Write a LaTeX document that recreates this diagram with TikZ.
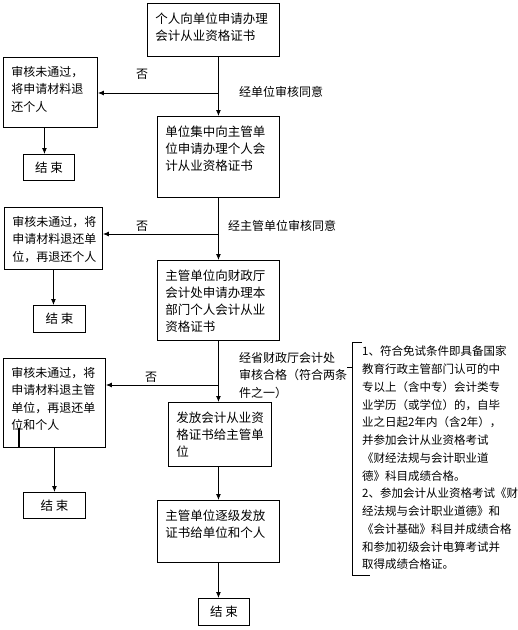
\documentclass[tikz,border=0pt]{standalone}
\usepackage{fontspec}
\setmainfont{Noto Sans CJK SC}
\usetikzlibrary{arrows.meta}
\tikzstyle{box} = [draw, line width=0.9pt, anchor=north west, inner xsep=8pt, inner ysep=0pt, font=\fontsize{12.5}{17}\selectfont]
\tikzstyle{nobox} = [box, font=\fontsize{12}{17.3}\selectfont]
\tikzstyle{endbox} = [draw, line width=0.9pt, anchor=north west, inner sep=0pt, font=\fontsize{12.5}{15}\selectfont]
\tikzstyle{lbl} = [inner sep=0pt, font=\fontsize{12}{17.5}\selectfont]
\tikzstyle{tut} = [line width=0.8pt]
\tikzstyle{tuh} = [style={-{Latex[length=6pt,width=5pt]},line width=0.9pt}]
\newcommand{\cell}[3]{\parbox[c][#2][t]{#1}{\vspace*{9pt}#3}}

\begin{document}
\begin{tikzpicture}[x=1pt,y=-1pt]
        \useasboundingbox[fill=white] (0,0) rectangle (518,630);
        % main column
        \node[box] (app) at (147,3) {\cell{116pt}{53pt}{个人向单位申请办理\\会计从业资格证书}};
        \node[box] (unit) at (157,116) {\cell{106pt}{81pt}{单位集中向主管单\\位申请办理个人会\\计从业资格证书}};
        \node[box] (dept) at (157,260) {\cell{106pt}{80pt}{主管单位向财政厅\\会计处申请办理本\\部门个人会计从业\\资格证书}};
        \node[box] (issue) at (168,402) {\cell{87pt}{64pt}{发放会计从业资\\格证书给主管单\\位}};
        \node[box] (dist) at (157,500) {\cell{106pt}{62pt}{主管单位逐级发放\\证书给单位和个人}};
        \node[endbox, minimum width=51pt, minimum height=27pt] (endF) at (198,598) {结\ 束};
        % left column
        \node[nobox] (rej1) at (3,57) {\cell{78pt}{70pt}{审核未通过，\\将申请材料退\\还个人}};
        \node[endbox, minimum width=51pt, minimum height=26pt] (end1) at (23,154) {结\ 束};
        \node[nobox] (rej2) at (4,207) {\cell{82pt}{62pt}{审核未通过，将\\申请材料退还单\\位，再退还个人}};
        \node[endbox, minimum width=52pt, minimum height=27pt] (end2) at (33,305) {结\ 束};
        \node[nobox] (rej3) at (3,358) {\cell{86pt}{89pt}{审核未通过，将\\申请材料退主管\\单位，再退还单\\位和个人}};
        \node[endbox, minimum width=62pt, minimum height=26pt] (end3) at (23,492) {结\ 束};
        % labels
        \node[lbl] (no1) at (142,74) {否};
        \node[lbl, anchor=west] (ok1) at (239,92) {经单位审核同意};
        \node[lbl] (no2) at (142,226) {否};
        \node[lbl, anchor=west] (ok2) at (228,226) {经主管单位审核同意};
        \node[lbl] (no3) at (151,377) {否};
        \node[lbl, anchor=north west, align=left] (cond) at (239,352) {经省财政厅会计处\\审核合格（符合两条\\件之一）};
        \node[lbl, anchor=north west, align=left, font=\fontsize{11.5}{17.75}\selectfont] (note) at (362,346) {1、符合免试条件即具备国家\\教育行政主管部门认可的中\\专以上（含中专）会计类专\\业学历（或学位）的，自毕\\业之日起2年内（含2年），\\并参加会计从业资格考试\\《财经法规与会计职业道\\德》科目成绩合格。\\2、参加会计从业资格考试《财\\经法规与会计职业道德》和\\《会计基础》科目并成绩合格\\和参加初级会计电算考试并\\取得成绩合格证。};
        % branch points
        \coordinate (j1) at (218,93);
        \coordinate (j2) at (218,234);
        \coordinate (j3) at (218,385);
        \coordinate (bt) at (352,342);
        \coordinate (bb) at (352,575);
        \coordinate (bj) at (352,367);
        % arrows
        \draw[tuh] (app.south -| unit.north) -- (unit.north);
        \draw[tuh] (j1) -- (j1 -| rej1.east);
        \draw[tuh] (unit.south) -- (dept.north);
        \draw[tuh] (j2) -- (j2 -| rej2.east);
        \draw[tuh] (dept.south) -- (dept.south |- issue.north);
        \draw[tuh] (j3) -- (j3 -| rej3.east);
        \draw[tuh] (issue.south -| dept.south) -- (dist.north);
        \draw[tuh] (dist.south) -- (dist.south |- endF.north);
        \draw[tuh] ([xshift=-6pt]rej1.south) -- ([xshift=-6pt]rej1.south |- end1.north);
        \draw[tuh] (rej2.south) -- (rej2.south |- end2.north);
        \draw[tuh] (rej3.south) -- (end3.north);
        % bracket
        \draw[tut] (bt -| note.west) -- (bt) -- (bb) -- ++(18,0);
        \draw[tut] (cond.east |- bj) -- (bj);
        \draw[line width=1.6pt] ([xshift=16pt]rej3.south west) -- ++(0,-20);
      \end{tikzpicture}
\end{document}
